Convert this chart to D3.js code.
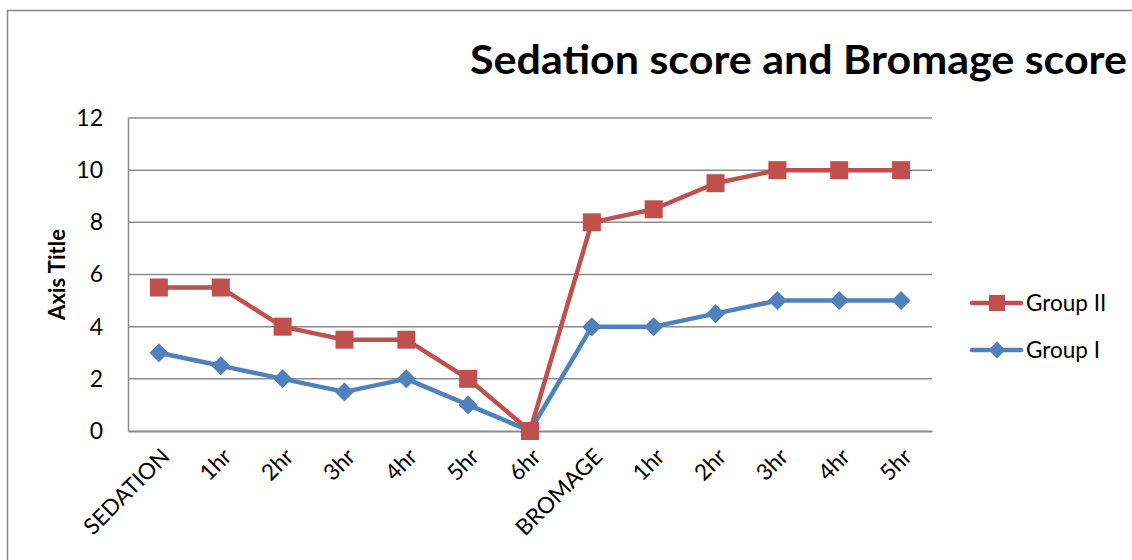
<!DOCTYPE html>
<html>
<head>
<meta charset="utf-8">
<script src="https://cdn.jsdelivr.net/npm/d3@7"></script>
<style>
  body { margin: 0; background: #fff; }
  text { font-family: Lato, "Open Sans", sans-serif; fill: #000; }
</style>
</head>
<body>
<div id="chart"></div>
<script>
// data
const categories = ["SEDATION", "1hr", "2hr", "3hr", "4hr", "5hr", "6hr",
  "BROMAGE", "1hr", "2hr", "3hr", "4hr", "5hr"]
const groupII = [5.5, 5.5, 4, 3.5, 3.5, 2, 0, 8, 8.5, 9.5, 10, 10, 10]
const groupI = [3, 2.5, 2, 1.5, 2, 1, 0, 4, 4, 4.5, 5, 5, 5]
const yTicks = [0, 2, 4, 6, 8, 10, 12]

function drawChart() {
  let dimensions = {
    width: 1132,
    height: 560,
    margin: { top: 118, right: 200, bottom: 129, left: 128 },
  }
  dimensions.boundedWidth = dimensions.width - dimensions.margin.left - dimensions.margin.right
  dimensions.boundedHeight = dimensions.height - dimensions.margin.top - dimensions.margin.bottom

  const red = "#C0504D"
  const blue = "#4F81BD"
  const gridColor = "#8c8c8c"

  const wrapper = d3.select("#chart")
    .append("svg")
      .attr("width", dimensions.width)
      .attr("height", dimensions.height)

  // chart border
  wrapper.append("rect")
    .attr("x", 7.5)
    .attr("y", 10.5)
    .attr("width", 1200)
    .attr("height", 600)
    .attr("fill", "none")
    .attr("stroke", "#878787")
    .attr("stroke-width", 1.5)

  const bounds = wrapper.append("g")
    .attr("transform", `translate(${dimensions.margin.left},${dimensions.margin.top})`)

  // scales
  const xScale = d3.scaleBand()
    .domain(d3.range(categories.length))
    .range([0, dimensions.boundedWidth])
  const xPos = i => xScale(i) + xScale.bandwidth() / 2

  const yScale = d3.scaleLinear()
    .domain([0, 12])
    .range([dimensions.boundedHeight, 0])

  // gridlines
  bounds.append("g")
    .selectAll("line")
    .data(yTicks.filter(d => d > 0))
    .join("line")
      .attr("x1", 0)
      .attr("x2", dimensions.boundedWidth)
      .attr("y1", d => yScale(d))
      .attr("y2", d => yScale(d))
      .attr("stroke", gridColor)
      .attr("stroke-width", 1.5)

  // y axis
  const yAxis = bounds.append("g")
    .call(d3.axisLeft(yScale).tickValues(yTicks).tickSize(0).tickPadding(25))
  yAxis.select(".domain").attr("stroke", gridColor).attr("stroke-width", 1.5)
  yAxis.selectAll("text")
    .style("font-family", "Lato, sans-serif")
    .style("font-size", "23px")
    .attr("fill", "#000")

  // x axis
  const xAxis = bounds.append("g")
    .attr("transform", `translate(0,${dimensions.boundedHeight})`)
    .call(d3.axisBottom(xScale).tickSize(0).tickFormat(i => categories[i]))
  xAxis.select(".domain").attr("stroke", gridColor).attr("stroke-width", 2)
  xAxis.selectAll("text")
    .style("font-family", "Lato, sans-serif")
    .style("font-size", "22.5px")
    .attr("fill", "#000")
    .attr("text-anchor", "end")
    .attr("dy", 0)
    .attr("transform", "translate(10,25) rotate(-45)")

  // axis title
  wrapper.append("text")
    .attr("transform", `translate(65,${dimensions.margin.top + dimensions.boundedHeight / 2}) rotate(-90)`)
    .attr("text-anchor", "middle")
    .style("font-size", "22px")
    .style("font-weight", "bold")
    .text("Axis Title")

  // chart title
  wrapper.append("text")
    .attr("x", 1127)
    .attr("y", 74)
    .attr("text-anchor", "end")
    .attr("textLength", 657)
    .attr("lengthAdjust", "spacingAndGlyphs")
    .style("font-size", "41px")
    .style("font-weight", "bold")
    .text("Sedation score and Bromage score")

  // lines
  const lineGenerator = d3.line()
    .x((d, i) => xPos(i))
    .y(d => yScale(d))

  const series = [
    { name: "Group I", values: groupI, color: blue, marker: "diamond" },
    { name: "Group II", values: groupII, color: red, marker: "square" },
  ]

  const diamond = s => `M0,${-s} L${s},0 L0,${s} L${-s},0 Z`

  series.forEach(s => {
    bounds.append("path")
      .attr("d", lineGenerator(s.values))
      .attr("fill", "none")
      .attr("stroke", s.color)
      .attr("stroke-width", 4.5)
      .attr("stroke-linejoin", "round")

    const marks = bounds.append("g")
      .selectAll("path")
      .data(s.values)
      .join("path")
        .attr("transform", (d, i) => `translate(${xPos(i)},${yScale(d)})`)
        .attr("fill", s.color)
    if (s.marker === "square") marks.attr("d", "M-9,-9 H9 V9 H-9 Z")
    else marks.attr("d", diamond(9.5))
  })

  // legend
  const legendItems = [
    { name: "Group II", color: red, marker: "square", y: 303 },
    { name: "Group I", color: blue, marker: "diamond", y: 350 },
  ]
  const legend = wrapper.append("g")
  legendItems.forEach(item => {
    const g = legend.append("g").attr("transform", `translate(0,${item.y})`)
    g.append("line")
      .attr("x1", 972)
      .attr("x2", 1021)
      .attr("stroke", item.color)
      .attr("stroke-width", 4.5)
      .attr("stroke-linecap", "round")
    g.append("path")
      .attr("transform", "translate(997,0)")
      .attr("d", item.marker === "square" ? "M-8,-8 H8 V8 H-8 Z" : diamond(8.5))
      .attr("fill", item.color)
    g.append("text")
      .attr("x", 1026)
      .attr("y", 8)
      .style("font-size", "22.5px")
      .text(item.name)
  })
}

drawChart()
</script>
</body>
</html>
